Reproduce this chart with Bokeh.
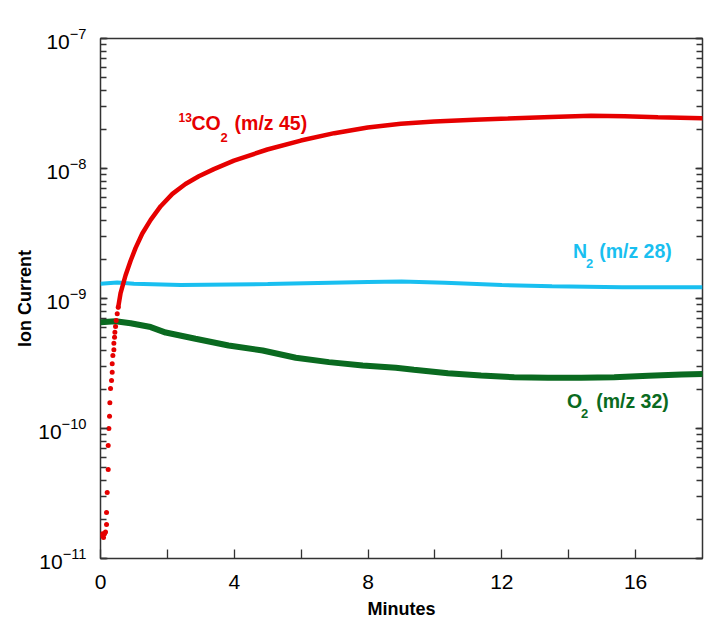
from bokeh.plotting import figure
from bokeh.models import Range1d, LogAxis, FixedTicker, LogTicker, CustomJSTickFormatter
from bokeh.embed import file_html
from bokeh.resources import INLINE
from bokeh.core.properties import value

# ---------------- data ----------------
# 13CO2 (m/z 45): early, sparsely sampled dots
red_dots_t = [0.03, 0.06, 0.09, 0.12, 0.15, 0.18, 0.18, 0.20, 0.23, 0.23, 0.25, 0.27, 0.28,
              0.30, 0.33, 0.35, 0.35, 0.37, 0.40, 0.40, 0.42, 0.43, 0.45, 0.47, 0.50, 0.53]
red_dots_v = [1.50e-11, 1.55e-11, 1.45e-11, 1.55e-11, 1.60e-11, 1.83e-11, 2.26e-11, 3.22e-11,
              4.84e-11, 7.4e-11, 1.0e-10, 1.24e-10, 1.58e-10, 2.03e-10, 2.34e-10, 2.71e-10,
              3.15e-10, 3.65e-10, 4.03e-10, 4.53e-10, 5.04e-10, 5.5e-10, 6.09e-10, 6.78e-10,
              7.63e-10, 8.57e-10]
# 13CO2 (m/z 45): dense part
red_t = [0.53, 0.60, 0.75, 0.90, 1.05, 1.25, 1.50, 1.80, 2.15, 2.54, 2.94, 3.39, 3.99, 4.99,
         5.99, 6.99, 7.99, 8.98, 9.98, 11.18, 12.18, 13.47, 14.67, 15.67, 16.67, 18.0]
red_v = [8.57e-10, 1.10e-9, 1.51e-9, 1.95e-9, 2.45e-9, 3.16e-9, 4.03e-9, 5.13e-9, 6.38e-9,
         7.59e-9, 8.71e-9, 9.89e-9, 1.15e-8, 1.40e-8, 1.64e-8, 1.87e-8, 2.07e-8, 2.21e-8,
         2.30e-8, 2.37e-8, 2.42e-8, 2.49e-8, 2.54e-8, 2.52e-8, 2.48e-8, 2.44e-8]
# N2 (m/z 28)
blue_t = [0.0, 0.5, 1.0, 2.4, 5.0, 8.0, 9.0, 10.3, 12.0, 13.5, 15.6, 18.0]
blue_v = [1.30e-9, 1.33e-9, 1.30e-9, 1.27e-9, 1.29e-9, 1.34e-9, 1.35e-9, 1.32e-9, 1.27e-9,
          1.24e-9, 1.22e-9, 1.22e-9]
# O2 (m/z 32)
green_t = [0.0, 0.45, 0.9, 1.5, 1.95, 2.84, 3.83, 4.85, 5.84, 6.83, 7.84, 8.83, 9.37, 10.39,
           11.38, 12.37, 13.38, 14.37, 15.36, 16.38, 17.37, 18.0]
green_v = [6.57e-10, 6.68e-10, 6.45e-10, 6.03e-10, 5.47e-10, 4.9e-10, 4.35e-10, 3.98e-10,
           3.5e-10, 3.24e-10, 3.05e-10, 2.93e-10, 2.83e-10, 2.66e-10, 2.56e-10, 2.48e-10,
           2.46e-10, 2.46e-10, 2.48e-10, 2.54e-10, 2.60e-10, 2.63e-10]

x_major = [0, 4, 8, 12, 16]
x_minor = [2, 6, 10, 14]

RED = "#e60000"
BLUE = "#19bff0"
GREEN = "#0a6a20"
FONT = "Liberation Sans"
AX = "#333333"

p = figure(width=708, height=633, x_range=Range1d(0, 18), y_range=Range1d(1e-11, 1e-7),
           y_axis_type="log", output_backend="svg", toolbar_location=None,
           min_border_left=100, min_border_right=6, min_border_top=38, min_border_bottom=75)
p.xgrid.visible = False
p.ygrid.visible = False
p.outline_line_color = AX
p.outline_line_width = 1.5
p.outline_line_alpha = 1.0
p.background_fill_color = "white"
p.border_fill_color = "white"

# x axis
xa = p.xaxis[0]
xa.ticker = FixedTicker(ticks=x_major, minor_ticks=x_minor)
xa.axis_line_color = None
xa.major_tick_in = 9
xa.major_tick_out = 0
xa.minor_tick_in = 9
xa.minor_tick_out = 0
xa.major_tick_line_color = AX
xa.minor_tick_line_color = AX
xa.major_tick_line_width = 1.3
xa.minor_tick_line_width = 1.3
xa.major_label_text_font = FONT
xa.major_label_text_font_size = "21px"
xa.major_label_text_color = "black"
xa.major_label_standoff = 16
xa.axis_label = "Minutes"
xa.axis_label_text_font = FONT
xa.axis_label_text_font_size = "18px"
xa.axis_label_text_font_style = "bold"
xa.axis_label_text_color = "black"
xa.axis_label_standoff = 7

# y axis
ya = p.yaxis[0]
ya.ticker = LogTicker(num_minor_ticks=10)
ya.axis_line_color = None
ya.major_tick_in = 7
ya.major_tick_out = 0
ya.minor_tick_in = 6
ya.minor_tick_out = 0
ya.major_tick_line_color = AX
ya.minor_tick_line_color = AX
ya.major_tick_line_width = 1.3
ya.minor_tick_line_width = 1.3
ya.major_label_text_font = FONT
ya.major_label_text_font_size = "21px"
ya.major_label_text_color = "black"
ya.major_label_standoff = 14
ya.axis_label = "Ion Current"
ya.axis_label_text_font = FONT
ya.axis_label_text_font_size = "18px"
ya.axis_label_text_font_style = "bold"
ya.axis_label_text_color = "black"
ya.axis_label_standoff = 0

# right mirrored axis (ticks only)
ra = LogAxis(ticker=LogTicker(num_minor_ticks=10),
             formatter=CustomJSTickFormatter(code="return ''"))
ra.axis_line_color = None
ra.major_tick_in = 7
ra.major_tick_out = 0
ra.minor_tick_in = 6
ra.minor_tick_out = 0
ra.major_tick_line_color = AX
ra.minor_tick_line_color = AX
ra.major_tick_line_width = 1.3
ra.minor_tick_line_width = 1.3
ra.major_label_standoff = 0
ra.major_label_text_font_size = "0px"
ra.axis_label_standoff = 0
p.add_layout(ra, "right")

# series
p.line(blue_t, blue_v, line_color=BLUE, line_width=4)
p.line(green_t, green_v, line_color=GREEN, line_width=6, line_cap="round")
p.line(red_t, red_v, line_color=RED, line_width=4.5, line_cap="round")
p.scatter(red_dots_t, red_dots_v, size=5, fill_color=RED, line_color=None)

# annotations
def lab(x, y, t, color, size):
    p.text(x=[x], y=[y], text=[t], text_color=color, text_font=value(FONT),
           text_font_size=size, text_font_style="bold", text_align="left",
           text_baseline="middle")

lab(2.335, 2.47e-8, "13", RED, "12px")
lab(2.72, 2.24e-8, "CO", RED, "19.5px")
lab(3.59, 1.72e-8, "2", RED, "13px")
lab(4.01, 2.24e-8, "(m/z 45)", RED, "19.5px")

lab(14.13, 2.30e-9, "N", BLUE, "19.5px")
lab(14.52, 1.875e-9, "2", BLUE, "13px")
lab(14.91, 2.30e-9, "(m/z 28)", BLUE, "19.5px")

lab(13.95, 1.63e-10, "O", GREEN, "19.5px")
lab(14.37, 1.30e-10, "2", GREEN, "13px")
lab(14.82, 1.63e-10, "(m/z 32)", GREEN, "19.5px")

open("out.html", "w").write(file_html(p, INLINE))
